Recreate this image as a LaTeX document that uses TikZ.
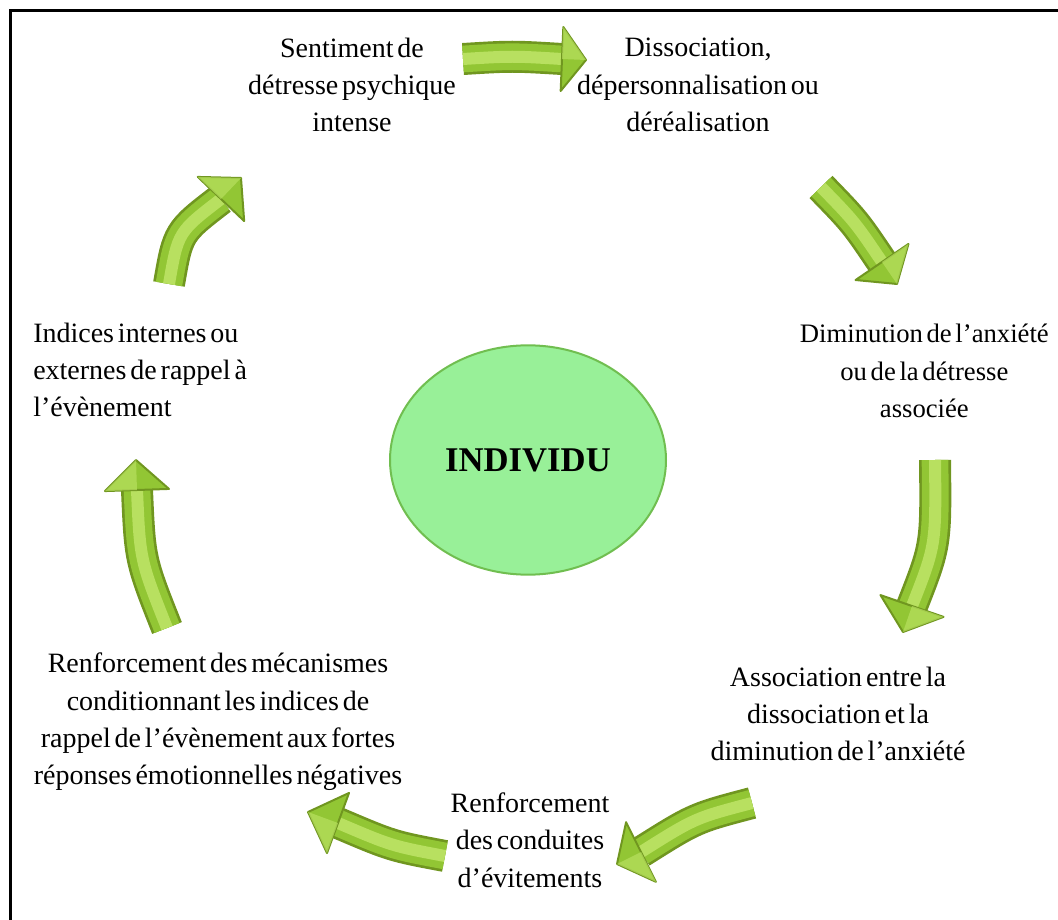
\documentclass[tikz,border=0pt]{standalone}
\usepackage{fontspec}
\setmainfont[WordSpace=0.55]{Liberation Serif}
\usetikzlibrary{calc,shapes.geometric}

\definecolor{arrowedge}{RGB}{112,150,32}
\definecolor{arrowface}{RGB}{146,198,52}
\definecolor{arrowshine}{RGB}{184,224,96}
\definecolor{bubblefill}{RGB}{152,240,152}
\definecolor{bubbleedge}{RGB}{112,190,80}

% Bevelled green arrow: tail, control point, head base, tip, half width of the head
\newcommand{\greenarrow}[5]{%
  \draw[shaftedge] (#1) .. controls (#2) .. (#3);
  \draw[shaftface] (#1) .. controls (#2) .. (#3);
  \draw[shaftshine] (#1) .. controls (#2) .. (#3);
  \coordinate (#3-w1) at ($(#3)!#5!90:(#4)$);
  \coordinate (#3-w2) at ($(#3)!#5!-90:(#4)$);
  \filldraw[headface] (#3-w1) -- (#4) -- (#3-w2) -- cycle;
  \fill[headshine] (#3-w1) -- (#4) -- (#3) -- cycle;
}

\begin{document}
\begin{tikzpicture}[x=0.75pt,y=-0.75pt,
  stagetext/.style={font=\fontsize{21}{28}\selectfont, align=center, inner sep=0pt},
  shaftedge/.style={draw=arrowedge, line width=24pt},
  shaftface/.style={draw=arrowface, line width=20pt},
  shaftshine/.style={draw=arrowshine, line width=9pt},
  headface/.style={fill=arrowface, draw=arrowedge, line width=1.5pt, line join=round},
  headshine/.style={fill=arrowshine, opacity=0.7},
  centre/.style={ellipse, draw=bubbleedge, fill=bubblefill, line width=1.5pt,
    minimum width=207pt, minimum height=172pt,
    font=\bfseries\fontsize{26}{30}\selectfont}]
\useasboundingbox (0,0) rectangle (1058,920);

% frame
\draw[line width=2.25pt] (10,920) -- (10,11) -- (1058,11);

% central ellipse
\node[centre] (indiv) at (528,460) {INDIVIDU};

% stages of the cycle
\node[stagetext] (sent) at (352,85) {Sentiment de\\détresse psychique\\intense};
\node[stagetext] (diss) at (698,85) {Dissociation,\\dépersonnalisation ou\\déréalisation};
\node[stagetext, font=\fontsize{20}{28}\selectfont, anchor=east] (dimi) at (1049,371) {Diminution de l’anxiété\\ou de la détresse\\associée};
\node[stagetext] (asso) at (838,714) {Association entre la\\dissociation et la\\diminution de l’anxiété};
\node[stagetext] (renf) at (530,840) {Renforcement\\des conduites\\d’évitements};
\node[stagetext] (meca) at (218,722) {Renforcement des mécanismes\\conditionnant les indices de\\rappel de l’évènement aux fortes\\réponses émotionnelles négatives};
\node[stagetext, align=left, anchor=west] (indi) at (33,370) {Indices internes ou\\externes de rappel à\\l’évènement};

% arrow geometry
\coordinate (a1t) at (463,59);  \coordinate (a1c) at (512,56);  \coordinate (a1b) at (562,59);  \coordinate (a1p) at (586,60);
\coordinate (a2t) at (821,187); \coordinate (a2c) at (855,222); \coordinate (a2b) at (882,262); \coordinate (a2p) at (897,284);
\coordinate (a3t) at (935,460); \coordinate (a3c) at (936,545); \coordinate (a3b) at (912,606); \coordinate (a3p) at (903,632);
\coordinate (a4t) at (752,803); \coordinate (a4c) at (695,818); \coordinate (a4b) at (641,852); \coordinate (a4p) at (617,864);
\coordinate (a5t) at (445,856); \coordinate (a5c) at (392,846); \coordinate (a5b) at (338,823); \coordinate (a5p) at (308,812);
\coordinate (a6t) at (167,628); \coordinate (a6c) at (140,560); \coordinate (a6b) at (137,490); \coordinate (a6p) at (136,460);
\coordinate (a7t) at (169,284); \coordinate (a7c) at (178,232); \coordinate (a7b) at (221,199); \coordinate (a7p) at (241,178);

\greenarrow{a1t}{a1c}{a1b}{a1p}{24pt}
\greenarrow{a2t}{a2c}{a2b}{a2p}{24pt}
\greenarrow{a3t}{a3c}{a3b}{a3p}{25pt}
\greenarrow{a4t}{a4c}{a4b}{a4p}{25pt}
\greenarrow{a5t}{a5c}{a5b}{a5p}{24pt}
\greenarrow{a6t}{a6c}{a6b}{a6p}{24pt}
\greenarrow{a7t}{a7c}{a7b}{a7p}{24pt}
\end{tikzpicture}
\end{document}
